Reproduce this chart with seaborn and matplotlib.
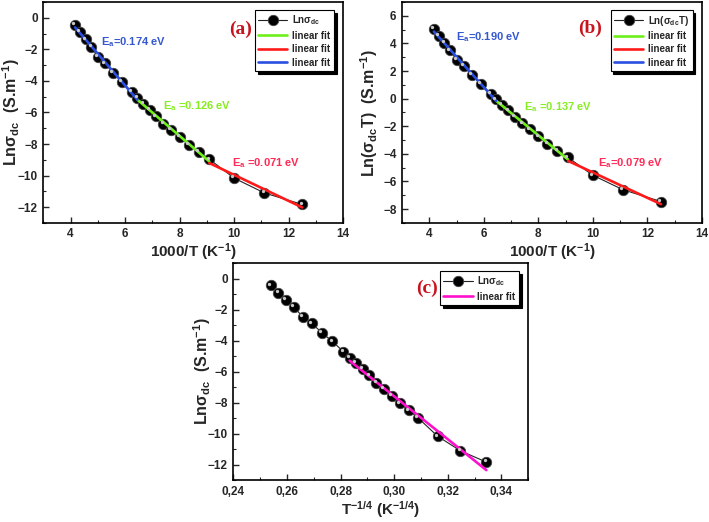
import numpy as np
import pandas as pd
import seaborn as sns
import matplotlib.pyplot as plt
from matplotlib.ticker import MultipleLocator, FuncFormatter
from matplotlib.transforms import offset_copy

# data
inv_T = [4.17, 4.35, 4.55, 4.76, 5.00, 5.26, 5.56, 5.88, 6.25, 6.45, 6.67,
         6.90, 7.14, 7.41, 7.69, 8.00, 8.33, 8.70, 9.09, 10.00, 11.11, 12.50]
t_quarter = [0.2541, 0.2568, 0.2597, 0.2627, 0.2659, 0.2693, 0.2730, 0.2769,
             0.2811, 0.2834, 0.2858, 0.2882, 0.2907, 0.2934, 0.2961, 0.2991,
             0.3021, 0.3054, 0.3088, 0.3162, 0.3247, 0.3344]
ln_sigma = [-0.44, -0.90, -1.36, -1.84, -2.47, -2.89, -3.48, -4.04, -4.71,
            -5.09, -5.45, -5.82, -6.24, -6.70, -7.10, -7.56, -8.04, -8.50,
            -8.96, -10.16, -11.10, -11.83]
ln_sigma_T = [5.04, 4.54, 4.03, 3.51, 2.83, 2.36, 1.71, 1.10, 0.37, -0.05,
              -0.44, -0.84, -1.30, -1.79, -2.23, -2.73, -3.25, -3.76, -4.26,
              -5.55, -6.60, -7.45]

# index ranges of the linear fits (blue, green, red) and VRH fit
fit_ranges = [(0, 9), (9, 18), (18, 21)]
fit_colors = ['#2a4fe0', '#6ef01a', '#ff1a1a']
vrh_range = (9, 21)

ea_a = ['E$_a$=0.174 eV', 'E$_a$ =0.126 eV', 'E$_a$ =0.071 eV']
ea_a_pos = [(5.1, -1.55), (7.38, -5.6), (9.94, -9.2)]
ea_b = ['E$_a$=0.190 eV', 'E$_a$ =0.137 eV', 'E$_a$=0.079 eV']
ea_b_pos = [(4.99, 4.48), (7.46, -0.6), (10.2, -4.65)]
ea_colors = ['#3558d0', '#86ee22', '#ff2a55']

sns.set_style('ticks')
plt.rcParams['font.family'] = ['Liberation Sans', 'DejaVu Sans']
plt.rcParams['font.weight'] = 'bold'
plt.rcParams['mathtext.fontset'] = 'custom'
plt.rcParams['mathtext.rm'] = 'Liberation Sans:bold'
plt.rcParams['mathtext.it'] = 'Liberation Sans:bold'
plt.rcParams['mathtext.bf'] = 'Liberation Sans:bold'
plt.rcParams['mathtext.default'] = 'bf'

fig = plt.figure(figsize=(7.09, 5.22), dpi=100)
ax_a = fig.add_axes([0.061, 0.573, 0.423, 0.423])
ax_b = fig.add_axes([0.567, 0.573, 0.423, 0.423])
ax_c = fig.add_axes([0.329, 0.080, 0.416, 0.416])


def draw_points(ax, x, y, label):
    df = pd.DataFrame({'x': x, 'y': y})
    sns.lineplot(data=df, x='x', y='y', ax=ax, color='#222222', lw=0.8,
                 marker='o', markersize=7.5, markerfacecolor='black',
                 markeredgecolor='#444444', markeredgewidth=0.6,
                 label=label, sort=False, zorder=3)
    # small highlight on each sphere
    hl = offset_copy(ax.transData, fig=fig, x=-1.2, y=1.2, units='points')
    ax.plot(x, y, ls='none', marker='o', markersize=2.4, color='#c8c8c8',
            mec='none', transform=hl, zorder=5)


def draw_fit(ax, x, y, i0, i1, color, z=4):
    xs = np.array(x[i0:i1 + 1])
    ys = np.array(y[i0:i1 + 1])
    k, b = np.polyfit(xs, ys, 1)
    df = pd.DataFrame({'x': [xs[0], xs[-1]], 'y': [k * xs[0] + b, k * xs[-1] + b]})
    sns.lineplot(data=df, x='x', y='y', ax=ax, color=color, lw=1.9,
                 label='linear fit', zorder=z)


def style(ax, xlim, ylim, xmaj, ymaj, xlabel, ylabel, ylab_x):
    ax.set_xlim(*xlim)
    ax.set_ylim(*ylim)
    ax.xaxis.set_major_locator(MultipleLocator(xmaj))
    ax.xaxis.set_minor_locator(MultipleLocator(xmaj / 2))
    ax.yaxis.set_major_locator(MultipleLocator(ymaj))
    ax.yaxis.set_minor_locator(MultipleLocator(ymaj / 2))
    ax.tick_params(which='both', direction='in')
    ax.tick_params(which='major', length=4, width=1, labelsize=8.5, pad=4)
    ax.tick_params(which='minor', length=2.5, width=0.8)
    for lab in ax.get_xticklabels() + ax.get_yticklabels():
        lab.set_fontweight('bold')
    for s in ax.spines.values():
        s.set_linewidth(1.2)
        s.set_color('black')
    ax.set_xlabel(xlabel, fontsize=11, fontweight='bold', labelpad=1)
    ax.set_ylabel(ylabel, fontsize=11.5, fontweight='bold')
    ax.yaxis.set_label_coords(ylab_x, 0.5)


def legend(ax):
    leg = ax.legend(loc='upper right', bbox_to_anchor=(0.985, 0.985),
                    fontsize=7, handlelength=3.0, labelspacing=0.35,
                    borderpad=0.35, handletextpad=0.5, fancybox=False,
                    edgecolor='black', framealpha=1,
                    shadow={'color': 'black', 'alpha': 1})
    leg.get_frame().set_linewidth(0.8)


# (a)
draw_points(ax_a, inv_T, ln_sigma, 'Ln\u03c3$_{dc}$')
for (i0, i1), c in zip([fit_ranges[1], fit_ranges[2], fit_ranges[0]],
                       [fit_colors[1], fit_colors[2], fit_colors[0]]):
    draw_fit(ax_a, inv_T, ln_sigma, i0, i1, c)
for t, (px, py), c in zip(ea_a, ea_a_pos, ea_colors):
    ax_a.text(px, py, t, color=c, fontsize=8, fontweight='bold', va='center')
ax_a.text(10.25, -0.7, '(a)', color='#c8141e', fontsize=14, fontweight='bold',
          family='Liberation Serif', ha='center', va='center')
style(ax_a, (3, 14), (-13, 1), 2, 2, '1000/T (K$^{-1}$)',
      'Ln\u03c3$_{dc}$  (S.m$^{-1}$)', -0.072)
legend(ax_a)

# (b)
draw_points(ax_b, inv_T, ln_sigma_T, 'Ln(\u03c3$_{dc}$T)')
for (i0, i1), c in zip([fit_ranges[1], fit_ranges[2], fit_ranges[0]],
                       [fit_colors[1], fit_colors[2], fit_colors[0]]):
    draw_fit(ax_b, inv_T, ln_sigma_T, i0, i1, c)
for t, (px, py), c in zip(ea_b, ea_b_pos, ea_colors):
    ax_b.text(px, py, t, color=c, fontsize=8, fontweight='bold', va='center')
ax_b.text(9.88, 5.13, '(b)', color='#c8141e', fontsize=14, fontweight='bold',
          family='Liberation Serif', ha='center', va='center')
style(ax_b, (3, 14), (-9, 7), 2, 2, '1000/T (K$^{-1}$)',
      'Ln(\u03c3$_{dc}$T)  (S.m$^{-1}$)', -0.073)
legend(ax_b)

# (c)
draw_points(ax_c, t_quarter, ln_sigma, 'Ln\u03c3$_{dc}$')
draw_fit(ax_c, t_quarter, ln_sigma, vrh_range[0], vrh_range[1], '#ff10cc')
ax_c.text(0.3121, -0.63, '(c)', color='#c8141e', fontsize=14, fontweight='bold',
          family='Liberation Serif', ha='center', va='center')
style(ax_c, (0.24, 0.35), (-13, 1), 0.02, 2, 'T$^{-1/4}$ (K$^{-1/4}$)',
      'Ln\u03c3$_{dc}$  (S.m$^{-1}$)', -0.07)
ax_c.xaxis.set_major_formatter(FuncFormatter(lambda v, p: f'{v:.2f}'.replace('.', ',')))
for lab in ax_c.get_xticklabels():
    lab.set_fontweight('bold')
legend(ax_c)

fig.savefig('out.png', dpi=100)
